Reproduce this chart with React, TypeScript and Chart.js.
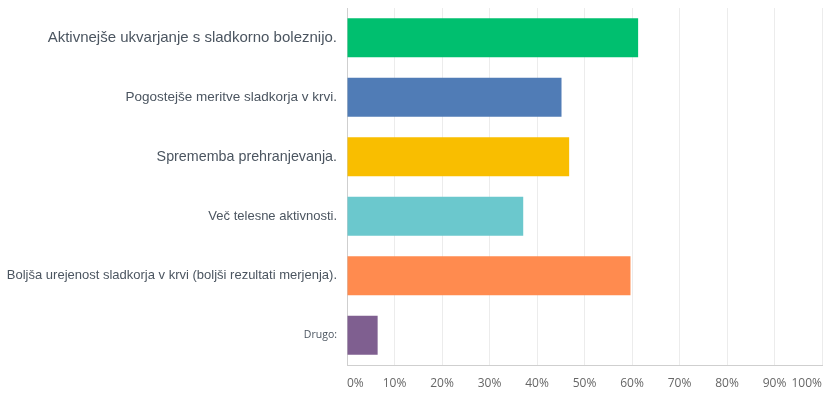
import React, { useEffect, useRef } from "react";
import { Chart, registerables } from "chart.js";

Chart.register(...registerables);

const categories = [
  "Aktivnejše ukvarjanje s sladkorno boleznijo.",
  "Pogostejše meritve sladkorja v krvi.",
  "Sprememba prehranjevanja.",
  "Več telesne aktivnosti.",
  "Boljša urejenost sladkorja v krvi (boljši rezultati merjenja).",
  "Drugo:",
];
const values = [61.29, 45.16, 46.77, 37.1, 59.68, 6.45];
const barColors = ["#00BF6F", "#507CB6", "#F9BE00", "#6BC8CD", "#FF8B4F", "#7F5F90"];
const labelSizes = [15, 13.5, 14.3, 13, 13, 10.5];
const tickValues = [0, 10, 20, 30, 40, 50, 60, 70, 80, 90, 100];

export default function App() {
  const ref = useRef<HTMLCanvasElement>(null);
  useEffect(() => {
    document.body.style.margin = "0";
    const chart = new Chart(ref.current!, {
      type: "bar",
      data: {
        labels: categories,
        datasets: [
          {
            data: values,
            backgroundColor: barColors,
            borderWidth: 0,
            categoryPercentage: 1,
            barPercentage: 0.655,
          },
        ],
      },
      options: {
        indexAxis: "y",
        animation: false,
        responsive: false,
        maintainAspectRatio: false,
        layout: { padding: { top: 8, right: 7, left: 0, bottom: 0 } },
        plugins: { legend: { display: false }, tooltip: { enabled: false } },
        scales: {
          x: {
            min: 0,
            max: 100,
            afterBuildTicks: (s: any) => {
              s.ticks = tickValues.map((v) => ({ value: v }));
            },
            afterFit: (s: any) => {
              s.height = 29;
              s.paddingLeft = 0;
              s.paddingRight = 0;
              s.paddingTop = 0;
              s.paddingBottom = 0;
            },
            grid: { color: "#ececec", drawTicks: false },
            border: { color: "#cfcfcf", width: 1 },
            ticks: {
              align: "inner",
              padding: 11,
              color: "#666666",
              font: { family: "Open Sans", size: 12 },
              callback: (v: any) => v + "%",
            },
          },
          y: {
            afterFit: (s: any) => {
              s.width = 347;
              s.paddingLeft = 0;
              s.paddingRight = 0;
              s.paddingTop = 0;
              s.paddingBottom = 0;
            },
            grid: { display: false, drawTicks: false },
            border: { color: "#cfcfcf", width: 1 },
            ticks: {
              padding: 10,
              color: "#4b5560",
              font: (ctx: any) => ({
                family: ctx.index === 5 ? "Open Sans" : "Liberation Sans",
                size: labelSizes[ctx.index] ?? 12,
              }),
            },
          },
        },
      },
    });
    return () => chart.destroy();
  }, []);
  return (
    <div style={{ width: 829, height: 394 }}>
      <canvas ref={ref} width={829} height={394} style={{ display: "block" }} />
    </div>
  );
}
